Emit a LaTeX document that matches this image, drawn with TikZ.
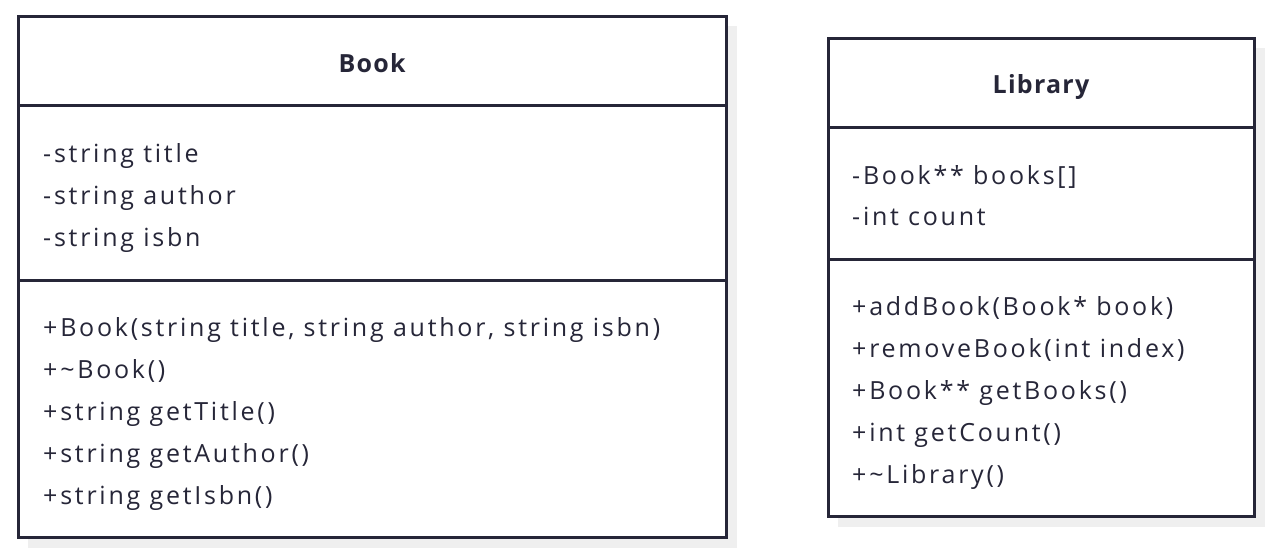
\documentclass[tikz,border=0pt]{standalone}
\usepackage{fontspec}
\setmainfont{Open Sans}
\newfontfamily\memberfont{Open Sans}[LetterSpace=11]
\newfontfamily\namefont{Open Sans}[LetterSpace=5]
\usepackage{tikz}
\usetikzlibrary{positioning}
\definecolor{umlink}{HTML}{262638}
\definecolor{umlshadow}{HTML}{EFEFEF}
\tikzset{
	classbox/.style={draw=umlink, line width=3pt, fill=white},
	classshadow/.style={fill=umlshadow, draw=none},
	classname/.style={text=umlink, font=\namefont\fontsize{25}{28}\selectfont\bfseries, anchor=base, inner sep=0pt},
	member/.style={text=umlink, font=\memberfont\fontsize{25}{28}\selectfont, anchor=base west, inner sep=0pt},
}

\begin{document}
\begin{tikzpicture}[x=1pt, y=-1pt]
	\useasboundingbox (0,0) rectangle (1273,554);
	
	% Shadows of the two classes
	\fill[classshadow] (28,26) rectangle (737,548);
	\fill[classshadow] (838,48) rectangle (1265,527);
	
	% Class Book
	\draw[classbox] (18.5,16) rectangle (726,537);
	\draw[umlink, line width=3pt] (18.5,105.5) -- (726,105.5);
	\draw[umlink, line width=3pt] (18.5,280) -- (726,280);
	\node[classname] (bookname) at (372,72) {Book};
	\node[member] (booktitle) at (43,162) {-string title};
	\node[member] (bookauthor) at (43,204) {-string author};
	\node[member] (bookisbn) at (43,246) {-string isbn};
	\node[member] (bookctor) at (43,336) {+Book(string title, string author, string isbn)};
	\node[member] (bookdtor) at (43,378) {+\textasciitilde Book()};
	\node[member] (gettitle) at (43,420) {+string getTitle()};
	\node[member] (getauthor) at (43,462) {+string getAuthor()};
	\node[member] (getisbn) at (43,504) {+string getIsbn()};
	
	% Class Library
	\draw[classbox] (828,38) rectangle (1254,516.5);
	\draw[umlink, line width=3pt] (828,127) -- (1254,127);
	\draw[umlink, line width=3pt] (828,259) -- (1254,259);
	\node[classname] (libname) at (1041,93) {Library};
	\node[member] (libbooks) at (852,184) {-Book** books[]};
	\node[member] (libcount) at (852,225) {-int count};
	\node[member] (addbook) at (852,315) {+addBook(Book* book)};
	\node[member] (removebook) at (852,357) {+removeBook(int index)};
	\node[member] (getbooks) at (852,399) {+Book** getBooks()};
	\node[member] (getcount) at (852,441) {+int getCount()};
	\node[member] (libdtor) at (852,483) {+\textasciitilde Library()};
\end{tikzpicture}
\end{document}
